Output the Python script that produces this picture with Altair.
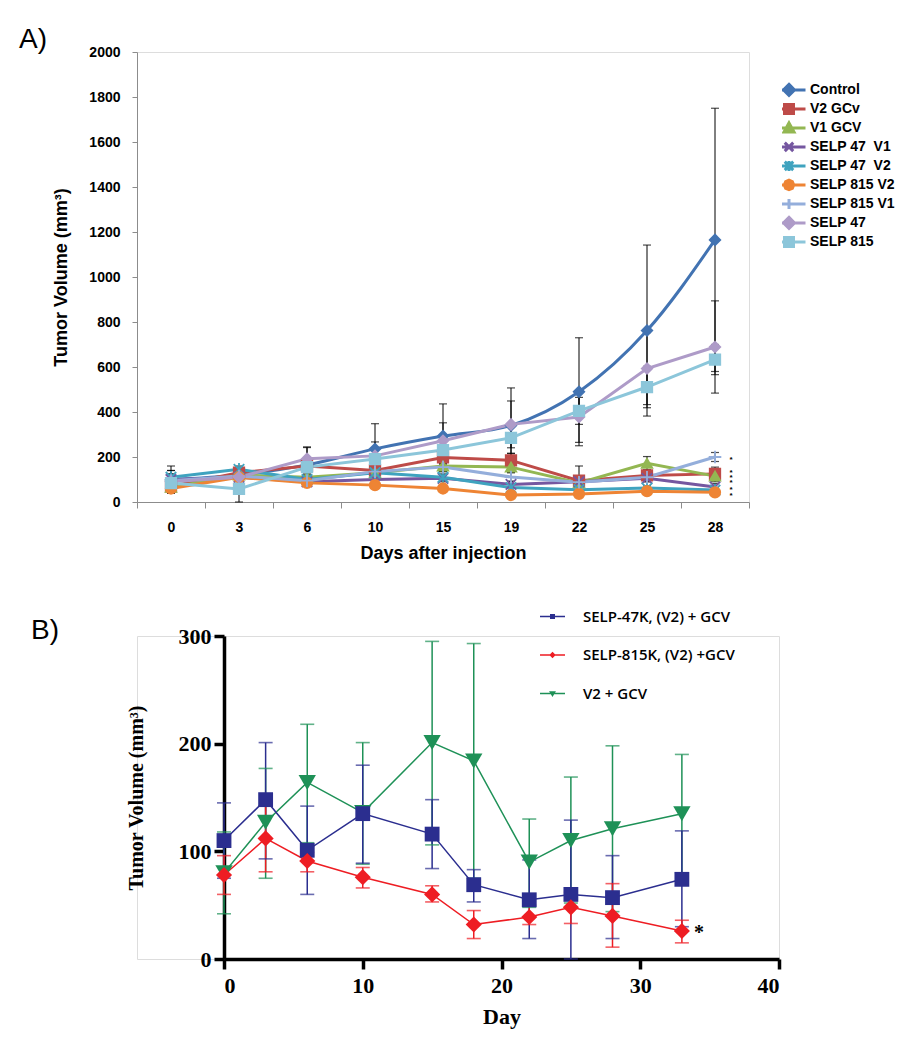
import altair as alt
import pandas as pd

# ---------------- Panel A data ----------------
days_a = ["0", "3", "6", "10", "15", "19", "22", "25", "28"]
series_a = ["Control", "V2 GCv", "V1 GCV", "SELP 47\u00a0 V1", "SELP 47\u00a0 V2",
            "SELP 815 V2", "SELP 815 V1", "SELP 47", "SELP 815"]
colors_a = ["#4273B2", "#BE4B48", "#93B752", "#7557A0", "#3FA3BF",
            "#EE8434", "#94AEDB", "#AE9BC8", "#8CC6DA"]

control = [100, 120, 165, 236, 293, 340, 490, 762, 1165]
v2_gcv = [70, 130, 160, 140, 198, 185, 95, 118, 125]
v1_gcv = [65, 120, 110, 130, 160, 155, 85, 172, 115]
selp47_v1 = [100, 110, 90, 100, 105, 78, 90, 105, 67]
selp47_v2 = [110, 145, 100, 130, 110, 64, 55, 62, 53]
selp815_v2 = [60, 110, 85, 75, 60, 31, 36, 48, 43]
selp815_v1 = [95, 115, 95, 135, 155, 111, 88, 110, 200]
selp47 = [90, 110, 192, 205, 272, 345, 378, 593, 689]
selp815 = [84, 58, 155, 191, 231, 285, 405, 511, 633]

control_err = [60, 30, 80, 112, 143, 167, 240, 380, 585]
v2_gcv_err = [20, 20, 25, 20, 30, 30, 65, 25, 30]
v1_gcv_err = [15, 20, 15, 20, 25, 25, 20, 30, 25]
selp47_v1_err = [15, 15, 15, 15, 15, 15, 15, 15, 15]
selp47_v2_err = [30, 15, 20, 15, 15, 15, 10, 10, 10]
selp815_v2_err = [20, 15, 15, 10, 10, 10, 10, 10, 10]
selp815_v1_err = [30, 20, 20, 20, 20, 20, 20, 20, 20]
selp47_err = [50, 40, 50, 62, 80, 104, 113, 160, 205]
selp815_err = [40, 60, 40, 50, 60, 68, 60, 92, 67]

values_a = [control, v2_gcv, v1_gcv, selp47_v1, selp47_v2, selp815_v2, selp815_v1, selp47, selp815]
errors_a = [control_err, v2_gcv_err, v1_gcv_err, selp47_v1_err, selp47_v2_err,
            selp815_v2_err, selp815_v1_err, selp47_err, selp815_err]

star_day_a = "28"
star_vals_a = [200, 142, 120, 98, 67, 40]

# ---------------- Panel B data ----------------
series_b = ["SELP-47K, (V2) + GCV", "SELP-815K, (V2) +GCV", "V2 + GCV"]
colors_b = ["#2B2E8F", "#EE1D23", "#1E9157"]
days_b = [0, 3, 6, 10, 15, 18, 22, 25, 28, 33]

b47 = [110, 148, 101, 135, 116, 69, 55, 60, 57, 74]
b47_lo = [75, 93, 60, 89, 84, 53, 19, 0, 19, 30]
b47_hi = [145, 201, 142, 180, 148, 83, 92, 129, 96, 119]
b815 = [78, 112, 91, 76, 60, 32, 39, 48, 40, 26]
b815_lo = [60, 81, 81, 66, 53, 19, 32, 33, 11, 15]
b815_hi = [96, 142, 99, 85, 68, 45, 50, 62, 70, 36]
bv2 = [80, 127, 164, 136, 201, 184, 90, 110, 121, 135]
bv2_lo = [42, 75, 108, 88, 106, 75, 48, 52, 44, 80]
bv2_hi = [118, 177, 218, 201, 295, 293, 130, 169, 198, 190]

star_day_b = [33]
star_val_b = [26]

# ---------------- build tables ----------------
rows = []
for name, vals, errs in zip(series_a, values_a, errors_a):
    for d, v, e in zip(days_a, vals, errs):
        rows.append(dict(series=name, day=d, value=v, lo=max(v - e, 0), hi=v + e))
df_a = pd.DataFrame(rows)
df_stars_a = pd.DataFrame({"day": [star_day_a] * len(star_vals_a), "value": star_vals_a})

rows = []
order_b = [2, 0, 1]  # draw green first, red on top
b_vals = [b47, b815, bv2]
b_los = [b47_lo, b815_lo, bv2_lo]
b_his = [b47_hi, b815_hi, bv2_hi]
for i in order_b:
    for d, v, lo, hi in zip(days_b, b_vals[i], b_los[i], b_his[i]):
        rows.append(dict(series=series_b[i], day=d, value=v, lo=lo, hi=hi))
df_b = pd.DataFrame(rows)
df_stars_b = pd.DataFrame({"day": star_day_b, "value": star_val_b})

SANS = "Liberation Sans"
SERIF = "Liberation Serif"

# ---------------- Panel A ----------------
shapes_a = ["diamond", "square", "triangle-up",
            "M-1,-1L1,1M-1,1L1,-1",
            "M-1,-1L1,1M-1,1L1,-1M0,-1.2L0,1.2",
            "circle",
            "M-1.2,0L1.2,0M0,-1.2L0,1.2",
            "diamond", "square"]
# legend symbols: unit = 5 px (symbolSize 100); a 33 px line with the marker on it
leg_a = ["M-3.3,0L3.3,0M0,-1.1L1.1,0L0,1.1L-1.1,0Z",
         "M-3.3,0L3.3,0M-0.9,-0.9L0.9,-0.9L0.9,0.9L-0.9,0.9Z",
         "M-3.3,0L3.3,0M0,-1L1,0.8L-1,0.8Z",
         "M-3.3,0L3.3,0M-0.85,-0.85L0.85,0.85M-0.85,0.85L0.85,-0.85",
         "M-3.3,0L3.3,0M-0.85,-0.85L0.85,0.85M-0.85,0.85L0.85,-0.85M0,-1L0,1",
         "M-3.3,0L3.3,0M0.95,0L0.67,0.67L0,0.95L-0.67,0.67L-0.95,0L-0.67,-0.67L0,-0.95L0.67,-0.67Z",
         "M-3.3,0L3.3,0M0,-1L0,1",
         "M-3.3,0L3.3,0M0,-1.1L1.1,0L0,1.1L-1.1,0Z",
         "M-3.3,0L3.3,0M-0.9,-0.9L0.9,-0.9L0.9,0.9L-0.9,0.9Z"]

xa = alt.X("day:N", sort=days_a,
           scale=alt.Scale(type="band", paddingInner=0, paddingOuter=0),
           axis=alt.Axis(title="Days after injection", labelAngle=0, tickBand="extent",
                         domainColor="#8C8C8C", tickColor="#8C8C8C", tickSize=6,
                         labelFont=SANS, labelFontSize=14, labelFontWeight="bold",
                         labelColor="black", labelPadding=12,
                         titleFont=SANS, titleFontSize=18, titleFontWeight="bold",
                         titleColor="black", titlePadding=10))
ya = alt.Y("value:Q", scale=alt.Scale(domain=[0, 2000], nice=False),
           axis=alt.Axis(title="Tumor Volume (mm³)", values=list(range(0, 2001, 200)), format="d",
                         grid=False, domainColor="#8C8C8C", tickColor="#8C8C8C", tickSize=5,
                         labelFont=SANS, labelFontSize=14, labelFontWeight="bold",
                         labelColor="black", labelPadding=12,
                         titleFont=SANS, titleFontSize=18, titleFontWeight="bold",
                         titleColor="black", titlePadding=18))

color_a = alt.Color("series:N", scale=alt.Scale(domain=series_a, range=colors_a), legend=None)

base_a = alt.Chart(df_a)
err_a = base_a.mark_rule(color="black", strokeWidth=1).encode(x=xa, y="lo:Q", y2="hi:Q")
cap_hi_a = base_a.mark_tick(orient="horizontal", color="black", size=8, thickness=1.2).encode(x=xa, y="hi:Q")
cap_lo_a = base_a.mark_tick(orient="horizontal", color="black", size=8, thickness=1.2).encode(x=xa, y="lo:Q")
line_a = base_a.transform_filter(alt.datum.series != "Control").mark_line(strokeWidth=3).encode(
    x=xa, y=ya, color=color_a, detail="series:N")
line_ctrl = base_a.transform_filter(alt.datum.series == "Control").mark_line(
    strokeWidth=3, interpolate="monotone").encode(x=xa, y=ya, color=color_a)
pts_a = base_a.mark_point(filled=True, opacity=1, size=110, strokeWidth=1.8).encode(
    x=xa, y=ya,
    fill=alt.Fill("series:N", scale=alt.Scale(domain=series_a, range=colors_a), legend=None),
    stroke=alt.Stroke("series:N", scale=alt.Scale(domain=series_a, range=colors_a), legend=None),
    shape=alt.Shape("series:N", scale=alt.Scale(domain=series_a, range=shapes_a), legend=None),
)
leg_layer_a = base_a.transform_filter("false").mark_point(filled=True, opacity=1).encode(
    x=xa, y=ya,
    fill=alt.Fill("series:N", scale=alt.Scale(domain=series_a, range=colors_a), legend=None),
    stroke=alt.Stroke("series:N", scale=alt.Scale(domain=series_a, range=colors_a), legend=None),
    shape=alt.Shape("series:N", scale=alt.Scale(domain=series_a, range=leg_a),
                    legend=alt.Legend(title=None, orient="none", legendX=645, legendY=28.5,
                                      symbolSize=100, symbolStrokeWidth=3, clipHeight=18.8,
                                      labelFont=SANS, labelFontSize=14, labelFontWeight="bold",
                                      labelColor="black", labelOffset=14, rowPadding=0,
                                      padding=0, labelLimit=300)),
)
stars_a = alt.Chart(df_stars_a).mark_text(text="*", font=SANS, fontSize=8, fontWeight="bold",
                                          color="black", dx=16, dy=3).encode(x=xa, y="value:Q")

chart_a = alt.layer(err_a, cap_hi_a, cap_lo_a, line_ctrl, line_a, pts_a, stars_a, leg_layer_a).resolve_scale(
    fill="independent", stroke="independent", shape="independent"
).properties(
    width=612, height=450,
    title=alt.TitleParams("A)", anchor="start", frame="group", font=SANS, fontSize=28,
                          fontWeight="normal", color="black", dx=-118, baseline="alphabetic",
                          offset=0, dy=31),
)

# ---------------- Panel B ----------------
# plot area of B starts further right than A: y axis is moved inward by the range start
xb = alt.X("day:Q", scale=alt.Scale(domain=[0, 40], nice=False, range=[87, 642]),
           axis=alt.Axis(title="Day", values=[0, 10, 20, 30, 40], grid=False,
                         domainColor="black", domainWidth=3.5, tickColor="black", tickWidth=3.5,
                         tickSize=10, labelFont=SERIF, labelFontSize=22, labelFontWeight="bold",
                         labelColor="black", labelPadding=6,
                         titleFont=SERIF, titleFontSize=22, titleFontWeight="bold",
                         titleColor="black", titlePadding=10))
yb = alt.Y("value:Q", scale=alt.Scale(domain=[0, 300], nice=False),
           axis=alt.Axis(title="Tumor Volume (mm³)", values=[0, 100, 200, 300], grid=False, offset=-87,
                         domainColor="black", domainWidth=3.5, tickColor="black", tickWidth=3.5,
                         tickSize=10, labelFont=SERIF, labelFontSize=22, labelFontWeight="bold",
                         labelColor="black", labelPadding=3,
                         titleFont=SERIF, titleFontSize=20, titleFontWeight="bold",
                         titleColor="black", titlePadding=32))
color_b = alt.Color("series:N", scale=alt.Scale(domain=series_b, range=colors_b), legend=None)

base_b = alt.Chart(df_b)
err_b = base_b.mark_rule(strokeWidth=1.5).encode(x=xb, y="lo:Q", y2="hi:Q", color=color_b)
cap_hi_b = base_b.mark_tick(orient="horizontal", size=14, thickness=1.6).encode(x=xb, y="hi:Q", color=color_b)
cap_lo_b = base_b.mark_tick(orient="horizontal", size=14, thickness=1.6).encode(x=xb, y="lo:Q", color=color_b)
line_b = base_b.mark_line(strokeWidth=1.5).encode(x=xb, y=yb, color=color_b, detail="series:N")
pts_b = base_b.mark_point(filled=True, opacity=1).encode(
    x=xb, y=yb, color=color_b,
    shape=alt.Shape("series:N", scale=alt.Scale(domain=series_b, range=["square", "diamond", "triangle-down"]), legend=None),
    size=alt.Size("series:N", scale=alt.Scale(domain=series_b, range=[220, 300, 200]), legend=None),
)
leg_b = ["M-1,0L1,0M-0.14,-0.14L0.14,-0.14L0.14,0.14L-0.14,0.14Z",
         "M-1,0L1,0M0,-0.17L0.17,0L0,0.17L-0.17,0Z",
         "M-1,0L1,0M-0.17,-0.12L0.17,-0.12L0,0.16Z"]
leg_layer_b = base_b.transform_filter("false").mark_point(filled=True, opacity=1).encode(
    x=xb, y=yb,
    fill=alt.Fill("series:N", scale=alt.Scale(domain=series_b, range=colors_b), legend=None),
    stroke=alt.Stroke("series:N", scale=alt.Scale(domain=series_b, range=colors_b), legend=None),
    shape=alt.Shape("series:N", scale=alt.Scale(domain=series_b, range=leg_b),
                    legend=alt.Legend(title=None, orient="none", legendX=402, legendY=-33,
                                      symbolSize=625, symbolStrokeWidth=1.5,
                                      labelFont="Open Sans", labelFontSize=15, labelFontWeight=600,
                                      labelColor="black", labelOffset=17, rowPadding=16.5,
                                      padding=0, labelLimit=300)),
)
stars_b = alt.Chart(df_stars_b).mark_text(text="*", font=SERIF, fontSize=20, fontWeight="bold",
                                          color="black", dx=17, dy=2).encode(x=xb, y="value:Q")

chart_b = alt.layer(err_b, cap_hi_b, cap_lo_b, line_b, pts_b, stars_b, leg_layer_b).resolve_scale(
    fill="independent", stroke="independent", shape="independent", size="independent"
).properties(
    width=642, height=323,
    title=alt.TitleParams("B)", anchor="start", frame="group", font=SANS, fontSize=28,
                          fontWeight="normal", color="black", dx=-106, baseline="alphabetic",
                          offset=0, dy=64),
)

chart = alt.vconcat(chart_a, chart_b, spacing=39).resolve_scale(
    color="independent", fill="independent", stroke="independent",
    shape="independent", size="independent"
).properties(
    padding={"left": 10, "top": 17, "right": 5, "bottom": 5}
).configure_view(stroke=None).configure(background="white")

chart.save("out.html", embed_options={"renderer": "svg", "actions": False})
